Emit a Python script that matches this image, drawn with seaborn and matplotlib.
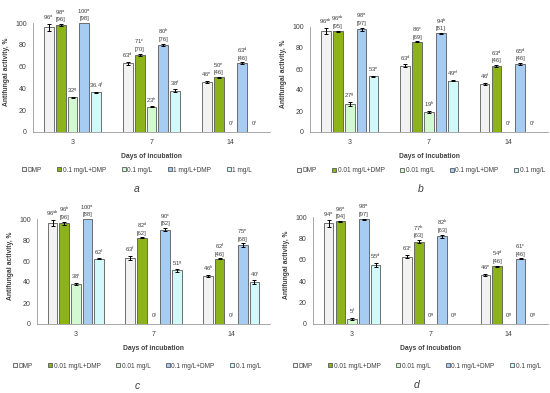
import matplotlib
matplotlib.use("Agg")
import matplotlib.pyplot as plt
import pandas as pd
import seaborn as sns

# -------------------------------
# Data
# -------------------------------
DAYS = ["3", "7", "14"]
COLORS = ["#f2f2f2", "#99cc00", "#ccffcc", "#99ccff", "#ccffff"]

GROUPS_A = ["DMP", "0.1 mg/L+DMP", "0.1 mg/L", "1 mg/L+DMP", "1 mg/L"]
GROUPS_BCD = ["DMP", "0.01 mg/L+DMP", "0.01 mg/L", "0.1 mg/L+DMP", "0.1 mg/L"]

# one row per group, values for day 3, 7, 14
A_VALUES = [[96, 63, 46], [98, 71, 50], [32, 23, 0], [100, 80, 63], [36.4, 38, 0]]
A_ERRORS = [[3, 1.5, 1], [1, 1, 0.5], [0.5, 0.5, 0], [0, 1, 1], [0.5, 1, 0]]
A_LETTERS = [["a", "d", "e"], ["a", "c", "e"], ["g", "h", "i"], ["a", "b", "d"], ["f", "f", "i"]]
A_BRACKETS = [None, [96, 70, 46], None, [98, 76, 46], None]

B_VALUES = [[96, 63, 46], [96, 86, 63], [27, 19, 0], [98, 94, 65], [53, 49, 0]]
B_ERRORS = [[3, 1.5, 1], [0.5, 0.5, 1], [2, 1, 0], [1.5, 0.5, 1], [0.5, 0.5, 0]]
B_LETTERS = [["ab", "d", "f"], ["ab", "c", "d"], ["g", "h", "i"], ["a", "b", "d"], ["e", "ef", "i"]]
B_BRACKETS = [None, [95, 69, 46], None, [97, 81, 46], None]

C_VALUES = [[96, 63, 46], [96, 82, 62], [38, 0, 0], [100, 90, 75], [62, 51, 40]]
C_ERRORS = [[3, 2, 1], [1.5, 0.5, 0.5], [1, 0, 0], [0, 1.5, 2], [0.5, 1, 1.5]]
C_LETTERS = [["ab", "f", "h"], ["b", "d", "f"], ["i", "j", "j"], ["a", "c", "e"], ["f", "g", "i"]]
C_BRACKETS = [None, [96, 62, 46], None, [88, 82, 68], None]

D_VALUES = [[94, 63, 46], [96, 77, 54], [5, 0, 0], [98, 82, 61], [55, 0, 0]]
D_ERRORS = [[3, 1.5, 1], [0.5, 1.5, 0.5], [1, 0, 0], [0.5, 1.5, 0.5], [2, 0, 0]]
D_LETTERS = [["a", "c", "e"], ["a", "b", "d"], ["f", "g", "g"], ["a", "b", "c"], ["d", "g", "g"]]
D_BRACKETS = [None, [94, 63, 46], None, [97, 63, 46], None]

TEXT_COLOR = "#404040"
AXIS_COLOR = "#999999"


# -------------------------------
# One panel
# -------------------------------
def draw_panel(fig, rect, groups, values, errors, letters, brackets, tag, legend_x, legend_y, tag_y):
    ax = fig.add_axes(rect)

    rows = []
    for g, vals in zip(groups, values):
        for d, v in zip(DAYS, vals):
            rows.append({"day": d, "group": g, "value": v})
    df = pd.DataFrame(rows)

    sns.barplot(data=df, x="day", y="value", hue="group", order=DAYS, hue_order=groups,
                palette=COLORS, errorbar=None, width=0.75, gap=0.18,
                edgecolor="#595959", linewidth=0.6, ax=ax)

    # error bars + labels on top of every bar
    bar_containers = list(ax.containers)
    for gi, container in enumerate(bar_containers):
        for bar in container:
            xc = bar.get_x() + bar.get_width() / 2
            di = int(round(xc))
            v = values[gi][di]
            e = errors[gi][di]
            if e > 0:
                ax.errorbar(xc, v, yerr=e, fmt="none", ecolor="black",
                            elinewidth=0.7, capsize=1.3, capthick=0.7)
            num = f"{v:g}" + r"$^{\mathregular{" + letters[gi][di] + "}}$"
            if brackets[gi] is not None:
                num += f"\n[{brackets[gi][di]}]"
            off = 4 if v == 0 else 1.5
            ax.text(xc, v + e + off, num, ha="center", va="bottom", fontsize=4.2,
                    color=TEXT_COLOR, linespacing=1.15)

    ax.set_ylim(0, 110)
    ax.set_yticks([0, 20, 40, 60, 80, 100])
    ax.set_xlim(-0.5, 2.5)
    sns.despine(ax=ax)
    ax.spines["left"].set_bounds(0, 100)
    for s in ("left", "bottom"):
        ax.spines[s].set_color(AXIS_COLOR)
        ax.spines[s].set_linewidth(0.6)
    ax.tick_params(axis="y", length=2.5, width=0.5, color=AXIS_COLOR, labelsize=5,
                   labelcolor=TEXT_COLOR, pad=2)
    ax.tick_params(axis="x", length=0, labelsize=5, labelcolor=TEXT_COLOR, pad=5)
    ax.set_ylabel("Antifungal activity, %", fontsize=4.9, fontweight="bold",
                  color=TEXT_COLOR, labelpad=3.5)
    ax.set_xlabel("Days of incubation", fontsize=4.9, fontweight="bold",
                  color=TEXT_COLOR, labelpad=5)

    handles, labels = ax.get_legend_handles_labels()
    ax.get_legend().remove()
    ax.legend(handles, labels, loc="center", bbox_to_anchor=(legend_x, legend_y),
              bbox_transform=fig.transFigure, ncol=5, frameon=False, fontsize=4.7,
              handlelength=0.6, handleheight=0.6, handletextpad=0.2,
              columnspacing=2.4, labelcolor=TEXT_COLOR)

    fig.text(legend_x, tag_y, tag, ha="center", va="center", fontsize=7.5,
             style="italic", color=TEXT_COLOR)
    return ax


# -------------------------------
# Main Function
# -------------------------------
def main():
    sns.set_style("white")
    plt.rcParams["font.family"] = ["Liberation Sans", "DejaVu Sans"]
    plt.rcParams["mathtext.fontset"] = "custom"
    plt.rcParams["mathtext.rm"] = "Liberation Sans"

    W, H = 550, 393
    fig = plt.figure(figsize=(5.5, 3.93), dpi=100)

    def rect(left, right, y0, px100):
        top = y0 - px100 * 1.10
        return [left / W, 1 - y0 / H, (right - left) / W, (y0 - top) / H]

    draw_panel(fig, rect(33, 270, 132, 109), GROUPS_A, A_VALUES, A_ERRORS, A_LETTERS,
               A_BRACKETS, "a", 137 / W, 1 - 170 / H, 1 - 189 / H)
    draw_panel(fig, rect(310, 548, 132, 105), GROUPS_BCD, B_VALUES, B_ERRORS, B_LETTERS,
               B_BRACKETS, "b", 421 / W, 1 - 171 / H, 1 - 189 / H)
    draw_panel(fig, rect(37, 270, 324, 105), GROUPS_BCD, C_VALUES, C_ERRORS, C_LETTERS,
               C_BRACKETS, "c", 137 / W, 1 - 366 / H, 1 - 386 / H)
    draw_panel(fig, rect(313, 548, 324, 107), GROUPS_BCD, D_VALUES, D_ERRORS, D_LETTERS,
               D_BRACKETS, "d", 417 / W, 1 - 366 / H, 1 - 385 / H)

    fig.savefig("out.png", dpi=100)
    plt.close(fig)


if __name__ == "__main__":
    main()
